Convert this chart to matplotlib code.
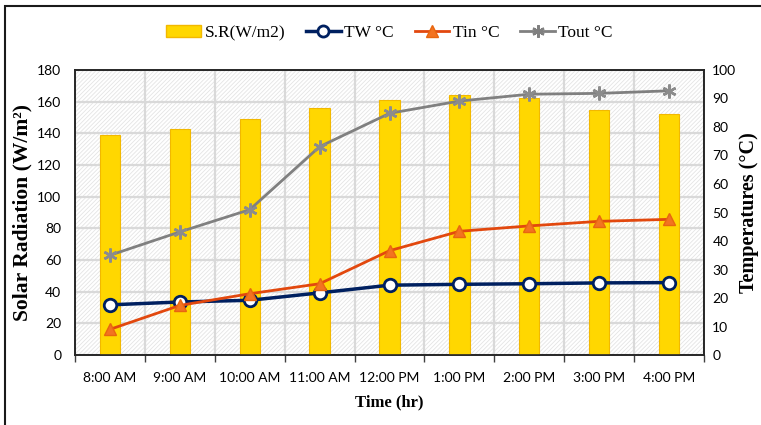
import numpy as np
import matplotlib
matplotlib.use("Agg")
import matplotlib.pyplot as plt
from matplotlib.patches import Rectangle
from matplotlib.lines import Line2D

# readings
hours = ['8:00 AM', '9:00 AM', '10:00 AM', '11:00 AM', '12:00 PM',
         '1:00 PM', '2:00 PM', '3:00 PM', '4:00 PM']
solar_rad = [139, 143, 149, 156, 161, 164, 162, 155, 152]
t_water = [17.6, 18.6, 19.2, 21.8, 24.5, 24.8, 25.0, 25.3, 25.4]
t_in = [9.0, 17.4, 21.5, 25.0, 36.6, 43.4, 45.3, 46.9, 47.6]
t_out = [35.0, 43.2, 51.0, 73.1, 84.8, 89.1, 91.5, 91.8, 92.7]
left_ticks = list(range(0, 181, 20))
right_ticks = list(range(0, 101, 10))

tick_font = 'Lato'
serif = 'Liberation Serif'
plt.rcParams['hatch.linewidth'] = 0.6

fig = plt.figure(figsize=(7.61, 4.25), dpi=100)
ax = fig.add_axes([0.0986, 0.1647, 0.8265, 0.6706])
ax2 = ax.twinx()

x = np.arange(len(hours))

# hatched plot background
ax.set_facecolor('white')
bg = Rectangle((0, 0), 1, 1, transform=ax.transAxes, facecolor='white',
               edgecolor='#e4e4e4', hatch='////////', linewidth=0, zorder=0)
ax.add_patch(bg)

ax.bar(x, solar_rad, width=0.29, color='#FFD700', edgecolor='#F2B800',
       linewidth=0.8, zorder=3)

ax.set_xlim(-0.5, len(hours) - 0.5)
ax.set_ylim(0, 180)
ax.set_yticks(left_ticks)
ax.set_xticks(np.arange(-0.5, len(hours), 1.0))
ax.set_xticklabels([])
ax.set_xticks(x, minor=True)
ax.set_xticklabels(hours, minor=True)
ax.tick_params(axis='x', which='major', length=5, width=1, color='#404040')
ax.tick_params(axis='x', which='minor', length=0, pad=12)
ax.tick_params(axis='y', length=0, pad=10)
ax.grid(True, which='major', color='#d9d9d9', linewidth=1.6, zorder=1)
ax.set_axisbelow(True)
for lbl in ax.get_xticklabels(minor=True) + ax.get_yticklabels():
    lbl.set_fontfamily(tick_font)
    lbl.set_fontsize(10)

ax2.plot(x, t_water, color='#002060', linewidth=2.5, marker='o', markersize=9,
         markerfacecolor='white', markeredgecolor='#002060', markeredgewidth=2, zorder=5)
ax2.plot(x, t_in, color='#E2480E', linewidth=2, marker='^', markersize=9,
         markerfacecolor='#F37321', markeredgecolor='#E8660F', zorder=5)
ax2.plot(x, t_out, color='#808080', linewidth=2, marker=(6, 2, 0), markersize=10,
         markeredgecolor='#8c8c8c', markeredgewidth=1.8, zorder=5)
ax2.set_ylim(0, 100)
ax2.set_yticks(right_ticks)
ax2.tick_params(axis='y', length=0, pad=6)
for lbl in ax2.get_yticklabels():
    lbl.set_fontfamily(tick_font)
    lbl.set_fontsize(10)

for a in (ax, ax2):
    for s in a.spines.values():
        s.set_color('#262626')
        s.set_linewidth(1.2)

ax.set_xlabel('Time (hr)', fontfamily=serif, fontweight='bold', fontsize=12, labelpad=8)
ax.set_ylabel('Solar Radiation (W/m²)', fontfamily=serif, fontweight='bold',
              fontsize=15.5, labelpad=3)
ax2.set_ylabel('Temperatures (°C)', fontfamily=serif, fontweight='bold', fontsize=14.5,
               labelpad=2)

handles = [
    Rectangle((0, 0), 1, 1, facecolor='#FFD700', edgecolor='#F2B800'),
    Line2D([], [], color='#002060', linewidth=2.5, marker='o', markersize=8,
           markerfacecolor='white', markeredgewidth=2),
    Line2D([], [], color='#E2480E', linewidth=2, marker='^', markersize=8,
           markerfacecolor='#F37321', markeredgecolor='#E8660F'),
    Line2D([], [], color='#808080', linewidth=2, marker=(6, 2, 0), markersize=9,
           markeredgewidth=1.6),
]
labels = ['S.R(W/m2)', 'TW °C', 'Tin °C', 'Tout °C']
fig.legend(handles, labels, loc='center', bbox_to_anchor=(0.512, 0.922), ncol=4,
           frameon=False, prop={'family': serif, 'size': 12.5}, handlelength=2.0,
           columnspacing=1.2, handletextpad=0.2)

# outer frame
fig.add_artist(Rectangle((5 / 761, -0.05), 1.1, 1 - 6 / 425 + 0.05,
                         transform=fig.transFigure, fill=False,
                         edgecolor='#1a1a1a', linewidth=1.5))

fig.savefig('out.png', dpi=100)
